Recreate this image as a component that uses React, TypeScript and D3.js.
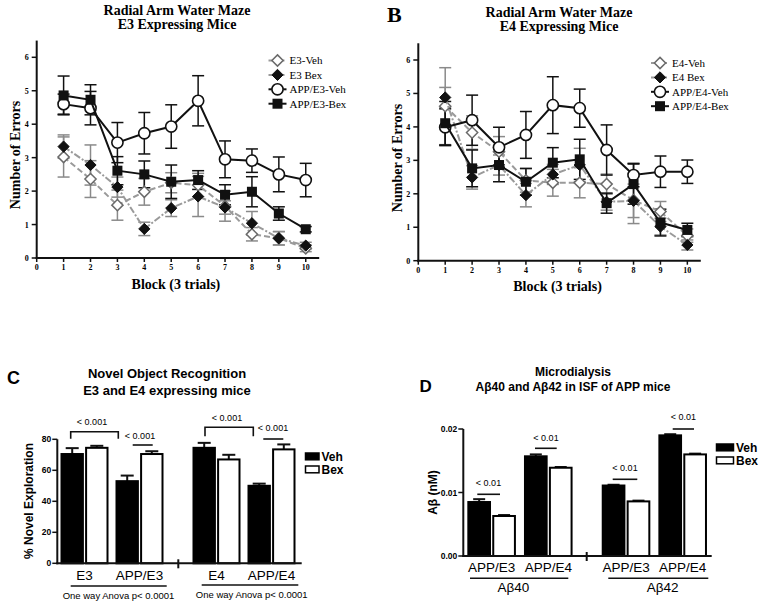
import React from "react";
import * as d3 from "d3";

const SERIF = "'Liberation Serif','Times New Roman',serif";
const SANS = "'Liberation Sans',Arial,Helvetica,sans-serif";

// ---------- Data: Radial arm water maze ----------
const blocks = [1, 2, 3, 4, 5, 6, 7, 8, 9, 10];
const blockTicks = [0, 1, 2, 3, 4, 5, 6, 7, 8, 9, 10];
const errorTicks = [0, 1, 2, 3, 4, 5, 6];

const e3Names = ["E3-Veh", "E3 Bex", "APP/E3-Veh", "APP/E3-Bex"];
const e3VehMean = [3.02, 2.36, 1.58, 1.98, 2.25, 2.18, 1.55, 0.71, 0.59, 0.29];
const e3VehSem = [0.6, 0.55, 0.45, 0.4, 0.3, 0.35, 0.45, 0.2, 0.2, 0.1];
const e3BexMean = [3.33, 2.78, 2.12, 0.87, 1.49, 1.84, 1.51, 1.04, 0.59, 0.37];
const e3BexSem = [0.35, 0.6, 0.3, 0.2, 0.25, 0.6, 0.2, 0.35, 0.2, 0.1];
const appE3VehMean = [4.6, 4.48, 3.45, 3.73, 3.93, 4.7, 2.95, 2.91, 2.5, 2.33];
const appE3VehSem = [0.3, 0.5, 0.6, 0.62, 0.65, 0.75, 0.55, 0.35, 0.52, 0.5];
const appE3BexMean = [4.86, 4.73, 2.61, 2.5, 2.28, 2.33, 1.89, 1.98, 1.33, 0.86];
const appE3BexSem = [0.58, 0.45, 0.42, 0.4, 0.5, 0.28, 0.3, 0.45, 0.2, 0.08];

const e4Names = ["E4-Veh", "E4 Bex", "APP/E4-Veh", "APP/E4-Bex"];
const e4VehMean = [4.62, 3.83, 3.26, 2.4, 2.33, 2.33, 2.29, 1.81, 1.47, 0.75];
const e4VehSem = [1.15, 0.5, 0.45, 0.35, 0.4, 0.45, 0.3, 0.7, 0.3, 0.2];
const e4BexMean = [4.88, 2.49, 2.86, 1.96, 2.58, 2.86, 1.76, 1.79, 1.02, 0.47];
const e4BexSem = [0.3, 0.35, 0.3, 0.35, 0.3, 0.5, 0.25, 0.5, 0.25, 0.15];
const appE4VehMean = [3.99, 4.2, 3.39, 3.76, 4.65, 4.56, 3.31, 2.56, 2.66, 2.66];
const appE4VehSem = [0.55, 0.75, 0.6, 0.7, 0.85, 0.57, 0.75, 0.35, 0.47, 0.35];
const appE4BexMean = [4.11, 2.76, 2.86, 2.36, 2.93, 3.03, 1.72, 2.29, 1.14, 0.92];
const appE4BexSem = [0.65, 0.55, 0.5, 0.4, 0.45, 0.6, 0.3, 0.6, 0.4, 0.2];

// ---------- Data: Novel object recognition ----------
const novelGroups = ["E3", "APP/E3", "E4", "APP/E4"];
const novelTicks = [0, 20, 40, 60, 80];
const novelVeh = [70.5, 53, 74.5, 50];
const novelVehErr = [3.8, 3.6, 3.2, 1.4];
const novelBex = [74.5, 70.5, 67, 73.5];
const novelBexErr = [1.3, 1.8, 3, 3.2];

// ---------- Data: Microdialysis ----------
const abGroups = ["APP/E3", "APP/E4", "APP/E3", "APP/E4"];
const abPeptides = ["Aβ40", "Aβ42"];
const abTicks = [0, 0.01, 0.02];
const abVeh = [0.0085, 0.0157, 0.0111, 0.019];
const abVehErr = [0.00045, 0.0003, 0.00012, 0.00018];
const abBex = [0.0063, 0.0139, 0.0086, 0.016];
const abBexErr = [0.00015, 0.00012, 0.00012, 0.00012];

const treatments = ["Veh", "Bex"];

// ---------- helpers ----------
const seriesStyles = [
  { stroke: "#9a9a9a", dash: "6,3", marker: "diamondOpen", err: "#8a8a8a", w: 2 },
  { stroke: "#9a9a9a", dash: "7,2,2,2", marker: "diamondFilled", err: "#8a8a8a", w: 2 },
  { stroke: "#111", dash: undefined, marker: "circle", err: "#111", w: 2 },
  { stroke: "#111", dash: undefined, marker: "square", err: "#111", w: 2 },
];

function Marker({ kind, x, y }: { kind: string; x: number; y: number }) {
  if (kind === "circle")
    return <circle cx={x} cy={y} r={5.6} fill="#fff" stroke="#111" strokeWidth={1.6} />;
  if (kind === "square")
    return <rect x={x - 5} y={y - 5} width={10} height={10} fill="#111" />;
  const s = 5.6;
  const d = `M${x},${y - s}L${x + s},${y}L${x},${y + s}L${x - s},${y}Z`;
  if (kind === "diamondOpen")
    return <path d={d} fill="#fff" stroke="#6a6a6a" strokeWidth={1.5} />;
  return <path d={d} fill="#111" stroke="#111" strokeWidth={1} />;
}

function LinePanel(props: any) {
  const {
    xRange, y0, means, sems, names, title, titleX, titleBase,
    legendX, legendY, ylabX, ylabY, xlabBase, tickBase, letter,
  } = props;
  const x = d3.scaleLinear().domain([0, 10.5]).range(xRange);
  const y = d3.scaleLinear().domain([0, 6.5]).range([y0, y0 - 6.5 * 33.45]);
  const line = d3
    .line<number>()
    .x((_, i) => x(blocks[i]))
    .y((d) => y(d));
  const order = [0, 1, 2, 3];
  return (
    <g>
      {letter && (
        <text x={letter[0]} y={letter[1]} fontFamily={SERIF} fontWeight="bold" fontSize={22}>
          {letter[2]}
        </text>
      )}
      <text x={titleX} y={titleBase[0]} textAnchor="middle" fontFamily={SERIF} fontWeight="bold" fontSize={14}>
        {title[0]}
      </text>
      <text x={titleX} y={titleBase[1]} textAnchor="middle" fontFamily={SERIF} fontWeight="bold" fontSize={14}>
        {title[1]}
      </text>
      {/* axes */}
      <line x1={x(0)} x2={x(0)} y1={y(0) + 1} y2={y(6.5)} stroke="#111" strokeWidth={2} />
      <line x1={x(0) - 1} x2={x(10.5)} y1={y(0)} y2={y(0)} stroke="#111" strokeWidth={2} />
      {errorTicks.map((t) => (
        <g key={"yt" + t}>
          <line x1={x(0) - 5} x2={x(0)} y1={y(t)} y2={y(t)} stroke="#111" strokeWidth={1.5} />
          <text x={x(0) - 8} y={y(t) + 3} textAnchor="end" fontFamily={SERIF} fontWeight="bold" fontSize={8}>
            {t}
          </text>
        </g>
      ))}
      {blockTicks.map((t) => (
        <g key={"xt" + t}>
          <line x1={x(t)} x2={x(t)} y1={y(0)} y2={y(0) + 4} stroke="#111" strokeWidth={1.5} />
          <text x={x(t)} y={tickBase} textAnchor="middle" fontFamily={SERIF} fontWeight="bold" fontSize={8}>
            {t}
          </text>
        </g>
      ))}
      <text x={(x(0) + x(10.5)) / 2 - 2} y={xlabBase} textAnchor="middle" fontFamily={SERIF} fontWeight="bold" fontSize={14}>
        Block (3 trials)
      </text>
      <text
        transform={`translate(${ylabX},${ylabY}) rotate(-90)`}
        textAnchor="middle"
        fontFamily={SERIF}
        fontWeight="bold"
        fontSize={14}
      >
        Number of Errors
      </text>
      {/* series */}
      {order.map((si) => {
        const st = seriesStyles[si];
        return (
          <g key={"s" + si}>
            {means[si].map((m: number, i: number) => {
              const s = sems[si][i];
              const cx = x(blocks[i]);
              return (
                <g key={i} stroke={st.err} strokeWidth={1.5}>
                  <line x1={cx} x2={cx} y1={y(m - s)} y2={y(m + s)} />
                  <line x1={cx - 6} x2={cx + 6} y1={y(m - s)} y2={y(m - s)} />
                  <line x1={cx - 6} x2={cx + 6} y1={y(m + s)} y2={y(m + s)} />
                </g>
              );
            })}
          </g>
        );
      })}
      {order.map((si) => {
        const st = seriesStyles[si];
        return (
          <g key={"l" + si}>
            <path d={line(means[si]) || ""} fill="none" stroke={st.stroke} strokeWidth={st.w} strokeDasharray={st.dash} />
            {means[si].map((m: number, i: number) => (
              <Marker key={i} kind={st.marker} x={x(blocks[i])} y={y(m)} />
            ))}
          </g>
        );
      })}
      {/* legend */}
      {names.map((n: string, i: number) => {
        const st = seriesStyles[i];
        const ly = legendY + i * 14.4;
        return (
          <g key={"lg" + i}>
            <line x1={legendX - 9} x2={legendX + 9} y1={ly} y2={ly} stroke={st.stroke} strokeWidth={2} strokeDasharray={st.dash ? "4,2" : undefined} />
            <Marker kind={st.marker} x={legendX} y={ly} />
            <text x={legendX + 12} y={ly + 3.8} fontFamily={SERIF} fontSize={11}>
              {n}
            </text>
          </g>
        );
      })}
    </g>
  );
}

function BarPanel(props: any) {
  const {
    domainMax, ticks, tickFmt, yRange, xAxis, breakX, halves, groups, veh, vehErr, bex, bexErr,
    innerHalf, capHalf, legend, labelBase,
  } = props;
  const y = d3.scaleLinear().domain([0, domainMax]).range(yRange);
  const g1 = d3.scaleBand().domain([0, 1].map(String)).range(halves[0]);
  const g2 = d3.scaleBand().domain([2, 3].map(String)).range(halves[1]);
  const center = (i: number) =>
    i < 2 ? (g1(String(i)) as number) + g1.bandwidth() / 2 : (g2(String(i)) as number) + g2.bandwidth() / 2;
  const inner = d3.scaleBand().domain(treatments).range([-innerHalf, innerHalf]).paddingInner(0.13);
  const y0 = y(0);
  return (
    <g>
      {groups.map((_: string, i: number) => {
        const c = center(i);
        const vals = [veh[i], bex[i]];
        const errs = [vehErr[i], bexErr[i]];
        return (
          <g key={i}>
            {treatments.map((t, k) => {
              const bx = c + (inner(t) as number);
              const bw = inner.bandwidth();
              const top = y(vals[k]);
              const et = y(vals[k] + errs[k]);
              const mid = bx + bw / 2;
              return (
                <g key={t}>
                  <line x1={mid} x2={mid} y1={top} y2={et} stroke="#111" strokeWidth={2} />
                  <line x1={mid - capHalf} x2={mid + capHalf} y1={et} y2={et} stroke="#111" strokeWidth={2} />
                  <rect x={bx} y={top} width={bw} height={y0 - top} fill={k === 0 ? "#000" : "#fff"} stroke="#000" strokeWidth={2} />
                </g>
              );
            })}
            <text x={c} y={labelBase} textAnchor="middle" fontFamily={SANS} fontSize={13.5}>
              {groups[i]}
            </text>
          </g>
        );
      })}
      {/* axes */}
      <line x1={xAxis[0]} x2={xAxis[0]} y1={y0 + 1} y2={y(domainMax)} stroke="#111" strokeWidth={2} />
      <line x1={xAxis[0] - 1} x2={xAxis[1]} y1={y0} y2={y0} stroke="#111" strokeWidth={2} />
      <line x1={breakX} x2={breakX} y1={y0 - 4} y2={y0 + 5} stroke="#111" strokeWidth={2} />
      {ticks.map((t: number) => (
        <g key={t}>
          <line x1={xAxis[0] - 5} x2={xAxis[0]} y1={y(t)} y2={y(t)} stroke="#111" strokeWidth={1.5} />
          <text x={xAxis[0] - 6} y={y(t) + 3} textAnchor="end" fontFamily={SANS} fontWeight="bold" fontSize={8.5}>
            {tickFmt(t)}
          </text>
        </g>
      ))}
      {/* legend */}
      {treatments.map((t, k) => (
        <g key={t}>
          <rect x={legend[0]} y={legend[1] + k * 13} width={legend[2]} height={6.8} fill={k === 0 ? "#000" : "#fff"} stroke="#000" strokeWidth={1.5} />
          <text x={legend[0] + legend[2] + 2.5} y={legend[1] + k * 13 + 8} fontFamily={SANS} fontWeight="bold" fontSize={legend[3]}>
            {t}
          </text>
        </g>
      ))}
    </g>
  );
}

function SigLine({ x1, x2, y, text, tx, ty, legs, fs }: any) {
  return (
    <g>
      <path
        d={legs ? `M${x1},${y + legs}V${y}H${x2}V${y + legs}` : `M${x1},${y}H${x2}`}
        fill="none"
        stroke="#111"
        strokeWidth={1.6}
      />
      <text x={tx} y={ty} textAnchor="middle" fontFamily={SANS} fontSize={fs}>
        {text}
      </text>
    </g>
  );
}

export default function App() {
  return (
    <svg width={764} height={606} style={{ position: "absolute", left: 0, top: 0, background: "#fff" }}>
      <rect width={764} height={606} fill="#fff" />
      {/* Panel A */}
      <LinePanel
        xRange={[36.7, 319.2]}
        y0={258}
        means={[e3VehMean, e3BexMean, appE3VehMean, appE3BexMean]}
        sems={[e3VehSem, e3BexSem, appE3VehSem, appE3BexSem]}
        names={e3Names}
        title={["Radial Arm Water Maze", "E3 Expressing Mice"]}
        titleX={177}
        titleBase={[14.5, 29]}
        legendX={277.5}
        legendY={60.5}
        ylabX={19.5}
        ylabY={155}
        xlabBase={289}
        tickBase={270}
      />
      {/* Panel B */}
      <LinePanel
        xRange={[418.3, 700.8]}
        y0={260.7}
        means={[e4VehMean, e4BexMean, appE4VehMean, appE4BexMean]}
        sems={[e4VehSem, e4BexSem, appE4VehSem, appE4BexSem]}
        names={e4Names}
        title={["Radial Arm Water Maze", "E4 Expressing Mice"]}
        titleX={559}
        titleBase={[16.5, 31]}
        legendX={660}
        legendY={63}
        ylabX={401.5}
        ylabY={158}
        xlabBase={291}
        tickBase={272.5}
        letter={[387, 21.5, "B"]}
      />

      {/* Panel C */}
      <text x={7} y={383.5} fontFamily={SANS} fontWeight="bold" fontSize={18}>C</text>
      <text x={167} y={377.5} textAnchor="middle" fontFamily={SANS} fontWeight="bold" fontSize={13}>
        Novel Object Recognition
      </text>
      <text x={167} y={395} textAnchor="middle" fontFamily={SANS} fontWeight="bold" fontSize={13}>
        E3 and E4 expressing mice
      </text>
      <text transform="translate(33,501) rotate(-90)" textAnchor="middle" fontFamily={SANS} fontWeight="bold" fontSize={12}>
        % Novel Exploration
      </text>
      <BarPanel
        domainMax={80}
        ticks={novelTicks}
        tickFmt={(t: number) => String(t)}
        yRange={[563.3, 439.3]}
        xAxis={[57.3, 301.7]}
        breakX={178.3}
        halves={[[57, 167], [189, 299]]}
        groups={novelGroups}
        veh={novelVeh}
        vehErr={novelVehErr}
        bex={novelBex}
        bexErr={novelBexErr}
        innerHalf={23}
        capHalf={6.5}
        legend={[305.5, 453, 13.5, 12]}
        labelBase={580}
      />
      <SigLine x1={70.7} x2={118.3} y={431.7} legs={7} text="< 0.001" tx={92} ty={425} fs={9} />
      <SigLine x1={132.7} x2={152.7} y={445} text="< 0.001" tx={140} ty={439} fs={9} />
      <SigLine x1={205} x2={253.3} y={427.3} legs={9} text="< 0.001" tx={227} ty={421} fs={9} />
      <SigLine x1={263.3} x2={283.3} y={439} text="< 0.001" tx={273} ty={431} fs={9} />
      <line x1={70.7} x2={166.7} y1={586} y2={586} stroke="#111" strokeWidth={1.6} />
      <line x1={201.7} x2={298.3} y1={585} y2={585} stroke="#111" strokeWidth={1.6} />
      <text x={118.5} y={598.5} textAnchor="middle" fontFamily={SANS} fontSize={9.5}>One way Anova p&lt; 0.0001</text>
      <text x={251.7} y={597.5} textAnchor="middle" fontFamily={SANS} fontSize={9.5}>One way Anova p&lt; 0.0001</text>

      {/* Panel D */}
      <text x={419.5} y={391.5} fontFamily={SANS} fontWeight="bold" fontSize={17}>D</text>
      <text x={573} y={375.7} textAnchor="middle" fontFamily={SANS} fontWeight="bold" fontSize={12}>
        Microdialysis
      </text>
      <text x={573} y={390.7} textAnchor="middle" fontFamily={SANS} fontWeight="bold" fontSize={12}>
        Aβ40 and Aβ42 in ISF of APP mice
      </text>
      <text transform="translate(436.5,492.5) rotate(-90)" textAnchor="middle" fontFamily={SANS} fontWeight="bold" fontSize={12}>
        Aβ (nM)
      </text>
      <BarPanel
        domainMax={0.02}
        ticks={abTicks}
        tickFmt={(t: number) => t.toFixed(2)}
        yRange={[556, 429]}
        xAxis={[463.3, 711.7]}
        breakX={586.7}
        halves={[[463.3, 576.6], [597.7, 711]]}
        groups={abGroups}
        veh={abVeh}
        vehErr={abVehErr}
        bex={abBex}
        bexErr={abBexErr}
        innerHalf={23.3}
        capHalf={6}
        legend={[716.5, 444, 17, 12]}
        labelBase={571.7}
      />
      <SigLine x1={477.3} x2={500} y={494.3} text="< 0.01" tx={488.5} ty={486} fs={9} />
      <SigLine x1={535} x2={556.7} y={448.3} text="< 0.01" tx={546} ty={441} fs={9} />
      <SigLine x1={612.7} x2={637.3} y={479.3} text="< 0.01" tx={625} ty={471} fs={9} />
      <SigLine x1={672.7} x2={694} y={429} text="< 0.01" tx={683.3} ty={419.5} fs={9} />
      <line x1={470} x2={568.3} y1={578.3} y2={578.3} stroke="#111" strokeWidth={1.6} />
      <line x1={608.3} x2={708.3} y1={578.3} y2={578.3} stroke="#111" strokeWidth={1.6} />
      <text x={513.3} y={592} textAnchor="middle" fontFamily={SANS} fontSize={13.5}>{abPeptides[0]}</text>
      <text x={662.7} y={592} textAnchor="middle" fontFamily={SANS} fontSize={13.5}>{abPeptides[1]}</text>
    </svg>
  );
}
